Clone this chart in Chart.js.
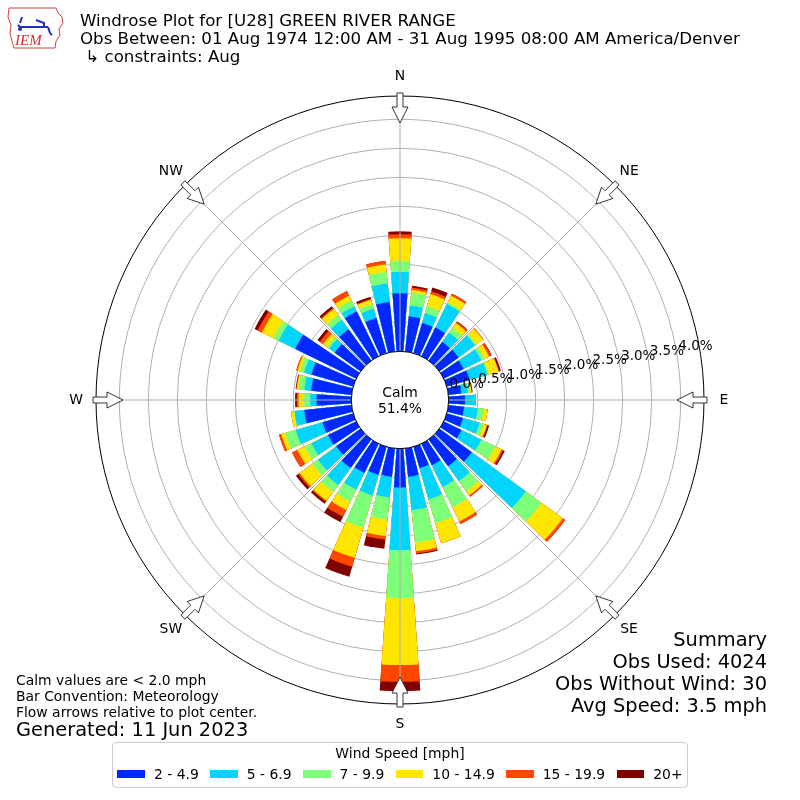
<!DOCTYPE html>
<html>
<head>
<meta charset="utf-8">
<script src="https://cdn.jsdelivr.net/npm/chart.js@4.4.0/dist/chart.umd.min.js"></script>
<style>
html,body{margin:0;padding:0;background:#fff;}
#wrap{position:relative;width:800px;height:800px;font-family:"DejaVu Sans",sans-serif;color:#000;overflow:hidden;}
#c{position:absolute;left:0;top:0;}
.t{position:absolute;white-space:pre;}
#legendBox{position:absolute;left:112px;top:742px;width:576px;height:46px;box-sizing:border-box;border:1px solid #cccccc;border-radius:4px;background:#fff;}
#legendTitle{position:absolute;left:112px;width:576px;top:745px;text-align:center;font-size:13.9px;line-height:16px;}
#legendRow{position:absolute;left:112px;width:576px;top:766px;height:16px;display:flex;justify-content:center;align-items:center;font-size:13.9px;line-height:16px;}
.sw{width:27.5px;height:8px;margin-right:9px;flex:none;}
.it{display:flex;align-items:center;margin-right:11.5px;}
.it:last-child{margin-right:0;}
</style>
</head>
<body>
<div id="wrap">
<canvas id="c" width="800" height="800"></canvas>

<svg class="t" style="left:6px;top:5px" width="62" height="46" viewBox="0 0 62 46">
  <path d="M3 3 L50 3 L52 8 L56 12 L57 18 L53 24 L54 30 L50 36 L49 43 L8 43 L6 36 L4 28 L5 20 L2 12 Z" fill="#fff" stroke="#d04040" stroke-width="1"/>
  <path d="M16 12 L14 18 M12 20 L14 22 M14 22 L42 22 M30 15 L38 18 L38 22 M42 22 L44 28 M44 28 L46 30" stroke="#2030c0" stroke-width="2" fill="none"/>
  <circle cx="14" cy="24" r="2" fill="#2030c0"/>
  <text x="9" y="40" font-family="Liberation Serif, serif" font-style="italic" font-size="15" fill="#d03030">IEM</text>
</svg>

<div class="t" style="left:80px;top:12px;font-size:16.65px;line-height:17.8px;">Windrose Plot for [U28] GREEN RIVER RANGE
Obs Between: 01 Aug 1974 12:00 AM - 31 Aug 1995 08:00 AM America/Denver
 ↳ constraints: Aug</div>

<div class="t" style="right:33px;top:629px;font-size:19.4px;line-height:22px;text-align:right;">Summary
Obs Used: 4024
Obs Without Wind: 30
Avg Speed: 3.5 mph</div>

<div class="t" style="left:16px;top:672px;font-size:13.9px;line-height:16px;">Calm values are &lt; 2.0 mph
Bar Convention: Meteorology
Flow arrows relative to plot center.</div>
<div class="t" style="left:16px;top:719px;font-size:19.4px;line-height:22px;">Generated: 11 Jun 2023</div>

<div id="legendBox"></div>
<div id="legendTitle">Wind Speed [mph]</div>
<div id="legendRow"></div>
</div>

<script>
// ---- data (percent of all observations) ----
const directions = [0,10,20,30,40,50,60,70,80,90,100,110,120,130,140,150,160,170,180,190,200,210,220,230,240,250,260,270,280,290,300,310,320,330,340,350];
const speedBins = ['2 - 4.9','5 - 6.9','7 - 9.9','10 - 14.9','15 - 19.9','20+'];
const s2to5   = [1.00,0.61,0.54,0.55,0.40,0.41,0.38,0.41,0.22,0.28,0.27,0.29,0.34,0.69,0.57,0.41,0.38,0.49,0.67,0.49,0.50,0.56,0.61,0.52,0.54,0.55,0.82,0.60,0.70,0.75,1.17,0.55,0.67,0.86,0.63,0.86];
const s5to7   = [0.37,0.19,0.18,0.45,0.20,0.35,0.34,0.32,0.12,0.19,0.24,0.30,0.38,1.15,0.32,0.42,0.56,0.58,1.08,0.36,0.37,0.32,0.36,0.39,0.32,0.48,0.17,0.11,0.12,0.13,0.32,0.12,0.20,0.10,0.17,0.32];
const s7to10  = [0.19,0.22,0.12,0.03,0.10,0.03,0.06,0.02,0.03,0.00,0.10,0.07,0.27,0.34,0.21,0.39,0.43,0.56,0.83,0.38,0.58,0.23,0.15,0.12,0.13,0.19,0.00,0.12,0.10,0.07,0.10,0.05,0.10,0.11,0.08,0.20];
const s10to15 = [0.39,0.05,0.22,0.13,0.10,0.14,0.09,0.18,0.03,0.00,0.07,0.06,0.12,0.45,0.09,0.27,0.36,0.15,1.15,0.29,0.54,0.16,0.19,0.27,0.14,0.07,0.06,0.08,0.03,0.05,0.22,0.08,0.13,0.09,0.08,0.13];
const s15to20 = [0.07,0.04,0.05,0.04,0.03,0.01,0.04,0.01,0.00,0.00,0.00,0.01,0.03,0.05,0.03,0.05,0.00,0.04,0.29,0.06,0.16,0.13,0.02,0.03,0.10,0.04,0.00,0.03,0.01,0.02,0.08,0.07,0.02,0.09,0.01,0.06];
const s20plus = [0.05,0.03,0.07,0.00,0.01,0.00,0.01,0.03,0.02,0.00,0.00,0.03,0.03,0.00,0.00,0.00,0.00,0.02,0.16,0.16,0.18,0.10,0.04,0.05,0.00,0.00,0.00,0.03,0.01,0.00,0.06,0.05,0.04,0.00,0.04,0.00];
const ringValues = [0,0.5,1,1.5,2,2.5,3,3.5,4];
const compassLabels = ['N','NE','E','SE','S','SW','W','NW'];
const calmPct = '51.4%';

// ---- style ----
const binColors = ['#0028ff','#00d4ff','#7dff7a','#ffe600','#ff4700','#800000'];
const rMin = -0.8397, rMax = 4.402;
const barDeg = 8, gapDeg = 2;
const FONT = '"DejaVu Sans", sans-serif';

// stacked (cumulative) values: inner bins drawn on top of outer bins
const series = [s2to5, s5to7, s7to10, s10to15, s15to20, s20plus];
const cum = [];
series.forEach((s, k) => cum.push(s.map((v, i) => +(((k ? cum[k-1][i] : 0) + v).toFixed(3)))));

const labels = [];
directions.forEach(d => { labels.push(d + '°'); labels.push(''); });

const datasets = cum.map((c, k) => ({
  label: speedBins[k],
  data: c.flatMap(v => [v, 0]),
  backgroundColor: ctx => (ctx.dataIndex % 2 ? 'rgba(0,0,0,0)' : binColors[k]),
  borderWidth: 0,
  angle: ctx => (ctx.dataIndex % 2 ? gapDeg : barDeg)
}));

function pt(cx, cy, r, t, a) {
  const s = Math.sin(a), c = Math.cos(a);
  return [cx + r * s + t * c, cy - r * c + t * s];
}

const windrosePlugin = {
  id: 'windrose',
  afterDatasetsDraw(chart) {
    const sc = chart.scales.r, ctx = chart.ctx;
    ctx.save();
    ctx.strokeStyle = '#b0b0b0'; ctx.lineWidth = 1;
    for (let k = 0; k < 8; k++) {
      const a = k * Math.PI / 4;
      const p = pt(sc.xCenter, sc.yCenter, sc.drawingArea, 0, a);
      ctx.beginPath(); ctx.moveTo(sc.xCenter, sc.yCenter); ctx.lineTo(p[0], p[1]); ctx.stroke();
    }
    ctx.restore();
  },
  afterDraw(chart) {
    const sc = chart.scales.r, ctx = chart.ctx;
    const cx = sc.xCenter, cy = sc.yCenter, R = sc.drawingArea;
    ctx.save();
    // outer frame
    ctx.strokeStyle = '#000'; ctx.lineWidth = 1;
    ctx.beginPath(); ctx.arc(cx, cy, R, 0, Math.PI * 2); ctx.stroke();
    // calm circle
    const r0 = sc.getDistanceFromCenterForValue(0);
    ctx.fillStyle = '#fff';
    ctx.beginPath(); ctx.arc(cx, cy, r0, 0, Math.PI * 2); ctx.fill(); ctx.stroke();
    ctx.fillStyle = '#000';
    ctx.font = '13.9px ' + FONT;
    ctx.textAlign = 'center'; ctx.textBaseline = 'alphabetic';
    ctx.fillText('Calm', cx, cy - 3);
    ctx.fillText(calmPct, cx, cy + 13);
    // radial tick labels
    const th = 9.5 * Math.PI / 180;
    ctx.textAlign = 'left';
    ctx.font = '13.5px ' + FONT;
    ringValues.forEach(v => {
      const r = sc.getDistanceFromCenterForValue(v);
      ctx.fillText(v.toFixed(1) + '%', cx + r * Math.cos(th) + 1.5, cy - r * Math.sin(th) - 3.7);
    });
    // direction arrows
    ctx.lineWidth = 1; ctx.strokeStyle = '#333'; ctx.fillStyle = '#fff';
    const shape = [[R + 3, -3], [R + 3, 3], [R - 11, 3], [R - 11, 8], [R - 27, 0], [R - 11, -8], [R - 11, -3]];
    for (let k = 0; k < 8; k++) {
      const a = k * Math.PI / 4;
      ctx.beginPath();
      shape.forEach((s, j) => { const p = pt(cx, cy, s[0], s[1], a); j ? ctx.lineTo(p[0], p[1]) : ctx.moveTo(p[0], p[1]); });
      ctx.closePath(); ctx.fill(); ctx.stroke();
    }
    // compass labels
    ctx.fillStyle = '#000';
    ctx.font = '13.9px ' + FONT;
    ctx.textAlign = 'center'; ctx.textBaseline = 'middle';
    compassLabels.forEach((lab, k) => {
      const p = pt(cx, cy, R + 20, 0, k * Math.PI / 4);
      ctx.fillText(lab, p[0], p[1]);
    });
    ctx.restore();
  }
};

new Chart(document.getElementById('c'), {
  type: 'polarArea',
  data: { labels, datasets },
  options: {
    responsive: false,
    animation: false,
    events: [],
    devicePixelRatio: window.devicePixelRatio || 1,
    layout: { padding: { left: 96, right: 96, top: 96, bottom: 96 } },
    plugins: { legend: { display: false }, tooltip: { enabled: false } },
    scales: {
      r: {
        min: rMin, max: rMax, startAngle: -barDeg / 2, z: 1,
        ticks: { display: false },
        grid: { color: '#b0b0b0', lineWidth: 1, circular: true },
        angleLines: { display: false },
        pointLabels: { display: false },
        afterBuildTicks: s => { s.ticks = ringValues.map(v => ({ value: v })); }
      }
    }
  },
  plugins: [windrosePlugin]
});

// legend (built from the same bins / colours)
const row = document.getElementById('legendRow');
speedBins.forEach((b, k) => {
  const it = document.createElement('div'); it.className = 'it';
  const sw = document.createElement('div'); sw.className = 'sw'; sw.style.background = binColors[k];
  const tx = document.createElement('span'); tx.textContent = b;
  it.appendChild(sw); it.appendChild(tx); row.appendChild(it);
});
</script>
</body>
</html>
